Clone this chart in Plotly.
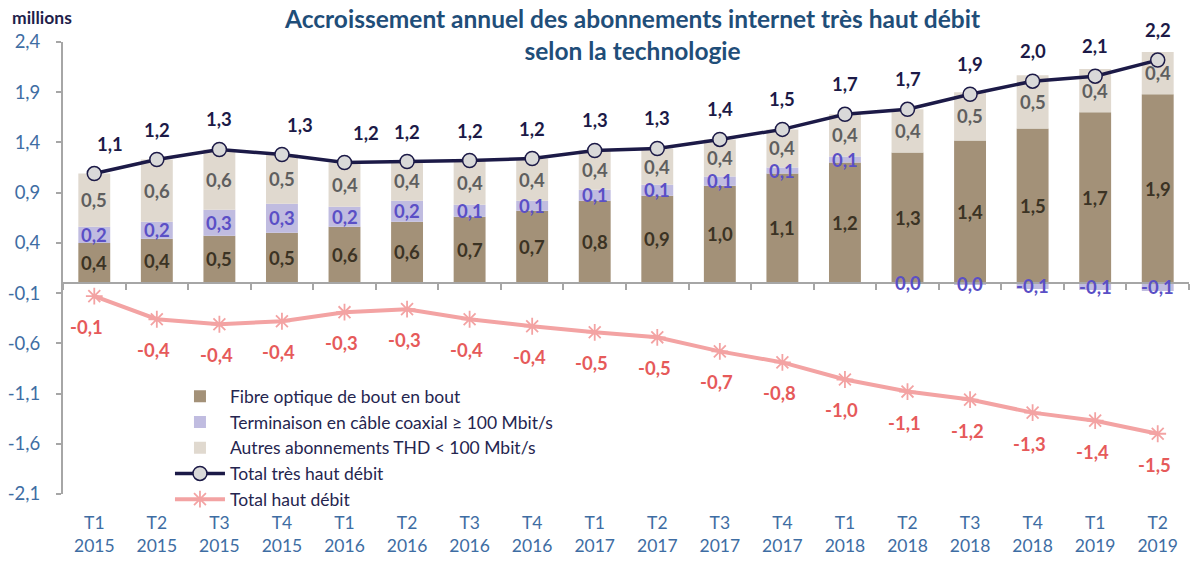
import plotly.graph_objects as go

# ---------------- data ----------------
quarters = ["T1", "T2", "T3", "T4", "T1", "T2", "T3", "T4", "T1", "T2", "T3", "T4",
            "T1", "T2", "T3", "T4", "T1", "T2"]
years = ["2015"] * 4 + ["2016"] * 4 + ["2017"] * 4 + ["2018"] * 4 + ["2019"] * 2
categories = [f"{q}<br>{y}" for q, y in zip(quarters, years)]

fibre = [0.40, 0.44, 0.47, 0.50, 0.56, 0.61, 0.66, 0.72, 0.82, 0.87, 0.97, 1.09,
         1.20, 1.30, 1.42, 1.54, 1.70, 1.88]
coax = [0.16, 0.17, 0.26, 0.29, 0.20, 0.21, 0.12, 0.10, 0.11, 0.11, 0.09, 0.06,
        0.06, -0.004, -0.02, -0.06, -0.07, -0.08]
autres = [0.53, 0.62, 0.60, 0.49, 0.44, 0.39, 0.44, 0.42, 0.39, 0.36, 0.37, 0.38,
          0.42, 0.43, 0.48, 0.53, 0.43, 0.42]
total_thd = [1.09, 1.23, 1.33, 1.28, 1.20, 1.21, 1.22, 1.24, 1.32, 1.34, 1.43, 1.53,
             1.68, 1.73, 1.88, 2.01, 2.06, 2.22]
total_hd = [-0.13, -0.36, -0.41, -0.38, -0.29, -0.26, -0.36, -0.43, -0.49, -0.54, -0.68, -0.79,
            -0.96, -1.08, -1.16, -1.29, -1.37, -1.50]

ytick_vals = [-2.1, -1.6, -1.1, -0.6, -0.1, 0.4, 0.9, 1.4, 1.9, 2.4]
ytick_text = ["-2,1", "-1,6", "-1,1", "-0,6", "-0,1", "0,4", "0,9", "1,4", "1,9", "2,4"]

names = ["Fibre optique de bout en bout",
         "Terminaison en câble coaxial ≥ 100 Mbit/s",
         "Autres abonnements THD < 100 Mbit/s",
         "Total très haut débit",
         "Total haut débit"]

title_text = "Accroissement annuel des abonnements internet très haut débit<br>selon la technologie"

# ---------------- style ----------------
FONT = "Lato, Calibri, Carlito, sans-serif"
C_FIBRE = "#A39178"
C_COAX = "#C0BCE0"
C_AUTRES = "#E0D9CF"
C_THD = "#1C1A47"
C_HD = "#F3A3A3"
C_AXIS_TXT = "#3E6DA3"
C_GRAY = "#A6A6A6"
LAB_SIZE = 18.5


def fmt(v):
    s = f"{v:.1f}".replace(".", ",")
    return "0,0" if s == "-0,0" else s


fig = go.Figure()
fig.add_trace(go.Bar(x=categories, y=fibre, name=names[0], marker_color=C_FIBRE,
                     marker_line_width=0, hoverinfo="skip"))
fig.add_trace(go.Bar(x=categories, y=coax, name=names[1], marker_color=C_COAX,
                     marker_line_width=0, hoverinfo="skip"))
fig.add_trace(go.Bar(x=categories, y=autres, name=names[2], marker_color=C_AUTRES,
                     marker_line_width=0, hoverinfo="skip"))
fig.add_trace(go.Scatter(x=categories, y=total_thd, name=names[3], mode="lines+markers",
                         line=dict(color=C_THD, width=3.5),
                         marker=dict(symbol="circle", size=14, color="#D9D9D9",
                                     line=dict(color=C_THD, width=1.5))))
fig.add_trace(go.Scatter(x=categories, y=total_hd, name=names[4], mode="lines+markers",
                         xaxis="x2",
                         line=dict(color=C_HD, width=4),
                         marker=dict(symbol="asterisk-open", size=14,
                                     line=dict(color=C_HD, width=1.8))))

annotations = []
lab_font = dict(family=FONT, size=LAB_SIZE)
for i, cat in enumerate(categories):
    f, c, a = fibre[i], coax[i], autres[i]
    annotations.append(dict(x=cat, y=f / 2, text=f"<b>{fmt(f)}</b>", showarrow=False,
                            font=dict(lab_font, color="#3B3324")))
    cmid = f + c / 2 if c >= 0 else c / 2
    annotations.append(dict(x=cat, y=cmid, text=f"<b>{fmt(c)}</b>", showarrow=False,
                            font=dict(lab_font, color="#5A4FC6")))
    amid = f + max(c, 0) + a / 2
    annotations.append(dict(x=cat, y=amid, text=f"<b>{fmt(a)}</b>", showarrow=False,
                            font=dict(lab_font, color="#5F5F5F")))

thd_dx = [16, 0, 0, 18, 21, 0, 0, 0, 0, 0, 0, 0, 0, 0, 0, 0, 0, 0]
for i, cat in enumerate(categories):
    annotations.append(dict(x=cat, y=total_thd[i], text=f"<b>{fmt(total_thd[i])}</b>",
                            showarrow=False, yshift=30, xshift=thd_dx[i],
                            font=dict(lab_font, color=C_THD)))
    annotations.append(dict(x=cat, y=total_hd[i], text=f"<b>{fmt(total_hd[i])}</b>",
                            showarrow=False, yshift=-31, xshift=-8 if i == 0 else -3,
                            font=dict(lab_font, color="#E65A5A")))

annotations.append(dict(xref="paper", yref="paper", x=-0.047, y=1.055, xanchor="left",
                        yanchor="middle", text="<b>millions</b>", showarrow=False,
                        font=dict(family=FONT, size=17.5, color="#1F1F4B")))
annotations.append(dict(xref="paper", yref="paper", x=0.505, y=1.088, xanchor="center",
                        yanchor="top", text=f"<b>{title_text}</b>", showarrow=False,
                        font=dict(family=FONT, size=24.5, color="#1F4E79")))

ymin, ymax = -2.1, 2.4

fig.update_layout(
    width=1195, height=562,
    margin=dict(l=63, r=6, t=42, b=66),
    paper_bgcolor="white", plot_bgcolor="white",
    barmode="relative", bargap=0.49,
    font=dict(family=FONT, size=17, color=C_AXIS_TXT),
    xaxis=dict(type="category", categoryorder="array", categoryarray=categories,
               range=[-0.5, len(categories) - 0.5],
               showline=False, showgrid=False, zeroline=False,
               ticks="outside", ticklen=13, tickcolor="rgba(0,0,0,0)",
               tickfont=dict(family=FONT, size=17.5, color=C_AXIS_TXT)),
    xaxis2=dict(type="category", categoryorder="array", categoryarray=categories,
                range=[-0.5, len(categories) - 0.5],
                overlaying="x", anchor="free", position=(0 - ymin) / (ymax - ymin),
                showline=True, linecolor=C_GRAY, linewidth=2,
                ticks="outside", tickson="boundaries", ticklen=6, tickcolor=C_GRAY, tickwidth=1.5,
                showticklabels=False, showgrid=False, zeroline=False),
    yaxis=dict(range=[ymin, ymax], tickvals=ytick_vals, ticktext=ytick_text,
               showline=True, linecolor=C_GRAY, linewidth=2,
               ticks="outside", ticklen=5, tickcolor=C_GRAY, tickwidth=1.5,
               ticklabelstandoff=12,
               showgrid=False, zeroline=False,
               tickfont=dict(family=FONT, size=18.5, color=C_AXIS_TXT)),
    legend=dict(x=0.095, y=0.256, xanchor="left", yanchor="top",
                traceorder="normal", bgcolor="rgba(0,0,0,0)",
                font=dict(family=FONT, size=17.5, color="#25254F"),
                itemwidth=50, tracegroupgap=0),
    annotations=annotations,
    showlegend=True,
)

fig.write_html("out.html", config={"displayModeBar": False},
               post_script="document.body.style.margin='0';")
